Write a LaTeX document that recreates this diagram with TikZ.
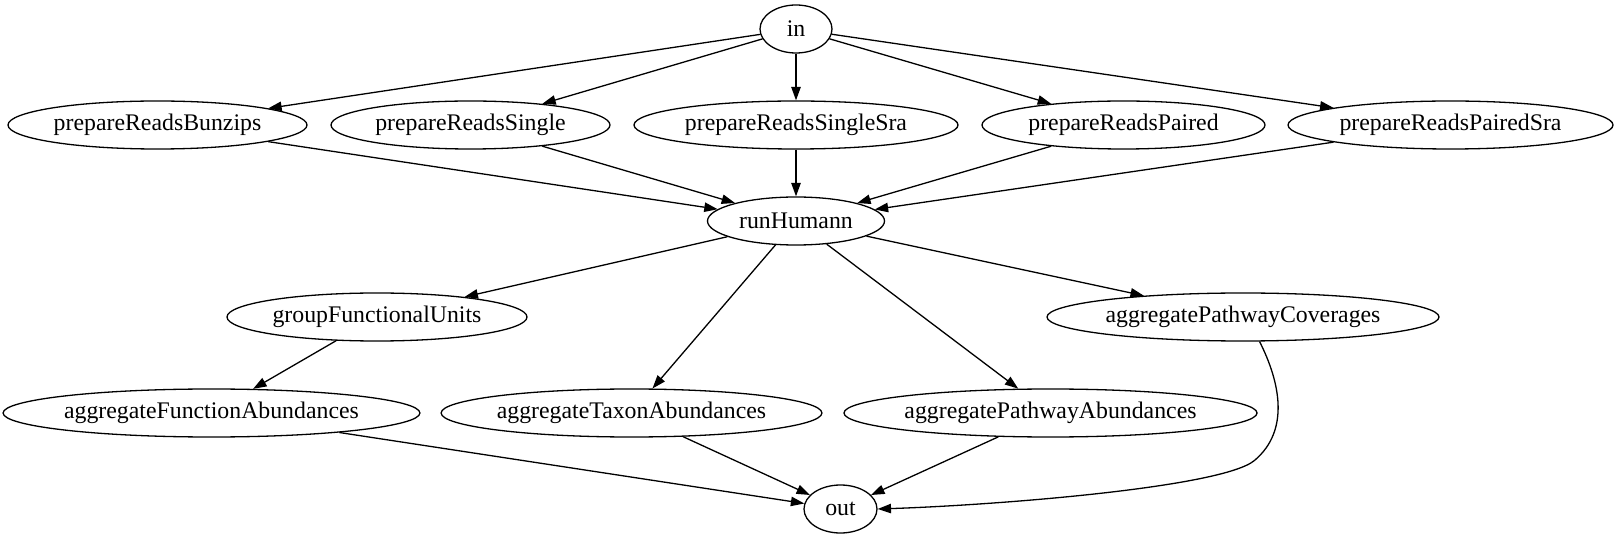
\documentclass[tikz,border=0pt]{standalone}
\usepackage{fontspec}
\setmainfont{Liberation Serif}
\usetikzlibrary{shapes.geometric,arrows.meta}
\begin{document}
\begin{tikzpicture}[x=0.5pt, y=-0.5pt,
    task/.style={draw, ellipse, line width=0.65pt, minimum height=24pt, inner sep=0pt,
        font=\fontsize{11.9}{14}\selectfont},
    flow/.style={-{Triangle[length=6.7pt,width=4.7pt]}, line width=0.65pt}]
    \useasboundingbox (0,0) rectangle (1616,539);
    \node[task, minimum width=36pt] (in) at (796,29) {in};
    \node[task, minimum width=149.5pt] (bunzips) at (157.5,125) {prepareReadsBunzips};
    \node[task, minimum width=139.5pt] (single) at (470.5,125) {prepareReadsSingle};
    \node[task, minimum width=162pt] (singlesra) at (796,125) {prepareReadsSingleSra};
    \node[task, minimum width=141.5pt] (paired) at (1123.5,125) {prepareReadsPaired};
    \node[task, minimum width=162.5pt] (pairedsra) at (1450.5,125) {prepareReadsPairedSra};
    \node[task, minimum width=88.5pt] (humann) at (796,221) {runHumann};
    \node[task, minimum width=150pt] (group) at (377,317) {groupFunctionalUnits};
    \node[task, minimum width=196pt] (coverage) at (1243,317) {aggregatePathwayCoverages};
    \node[task, minimum width=206.5pt] (function) at (211.5,413) {aggregateFunctionAbundances};
    \node[task, minimum width=188.5pt] (taxon) at (631.5,413) {aggregateTaxonAbundances};
    \node[task, minimum width=205.5pt] (pathway) at (1050.5,413) {aggregatePathwayAbundances};
    \node[task, minimum width=36.5pt] (out) at (840.5,509) {out};
    % reads
    \foreach \n in {bunzips, single, singlesra, paired, pairedsra} {
        \draw[flow] (in) -- (\n);
        \draw[flow] (\n) -- (humann);
    }
    \foreach \n in {group, taxon, pathway, coverage}
        \draw[flow] (humann) -- (\n);
    \draw[flow] (group) -- (function);
    \foreach \n in {function, taxon, pathway}
        \draw[flow] (\n) -- (out);
    \draw[flow] (coverage.-56) .. controls (1280,382) and (1290,430) .. (1255,460)
        .. controls (1225,487) and (1000,505) .. (out.east);
\end{tikzpicture}
\end{document}
